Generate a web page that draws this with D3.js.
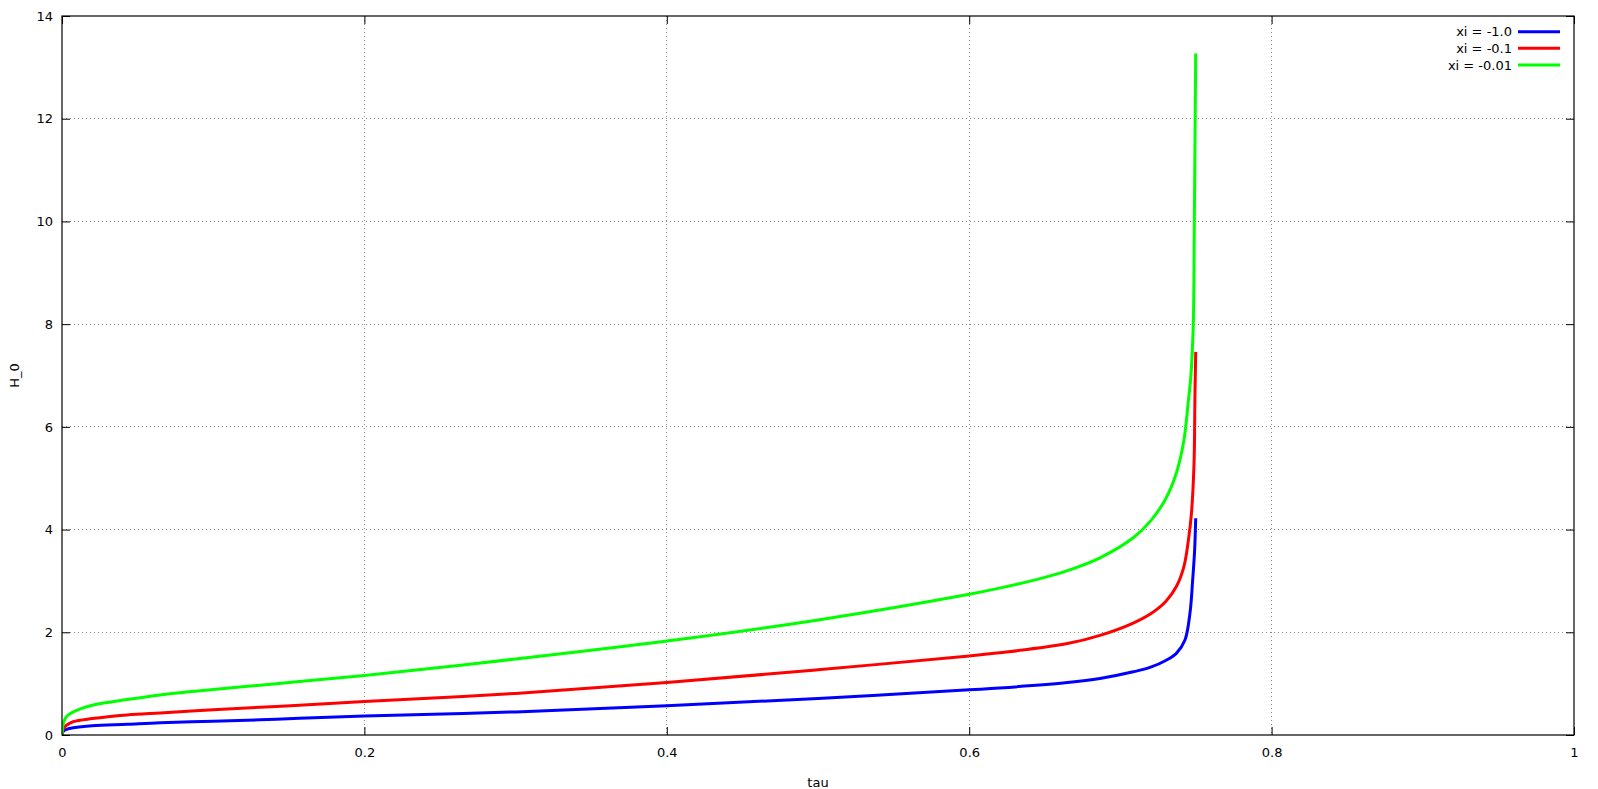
<!DOCTYPE html>
<html>
<head>
<meta charset="utf-8">
<script src="https://cdn.jsdelivr.net/npm/d3@7"></script>
<style>
  html, body { margin: 0; padding: 0; background: #fff; }
  svg { display: block; }
  text { font-family: "DejaVu Sans", sans-serif; font-size: 13px; fill: #000; }
</style>
</head>
<body>
<svg id="chart" width="1598" height="789"></svg>
<script>
// ---- data ----
const seriesNames = ["xi = -1.0", "xi = -0.1", "xi = -0.01"];
const seriesColors = ["#0000ff", "#ff0000", "#00ff00"];

const tauBlue = [0, 0.001, 0.003, 0.0075, 0.02, 0.043, 0.065, 0.1, 0.131, 0.157, 0.2, 0.3, 0.4, 0.5, 0.6, 0.62, 0.665, 0.6865, 0.7085, 0.72, 0.73, 0.737, 0.7427, 0.746, 0.7478, 0.7491, 0.7498];
const hBlue   = [0, 0.08, 0.11, 0.14, 0.18, 0.21, 0.24, 0.27, 0.295, 0.325, 0.37, 0.45, 0.57, 0.71, 0.88, 0.915, 1.02, 1.10, 1.23, 1.32, 1.45, 1.59, 1.85, 2.37, 3.02, 3.6, 4.22];

const tauRed = [0, 0.001, 0.003, 0.0075, 0.02, 0.043, 0.065, 0.1, 0.131, 0.157, 0.2, 0.3, 0.4, 0.5, 0.6, 0.62, 0.665, 0.6865, 0.7085, 0.72, 0.73, 0.737, 0.742, 0.745, 0.747, 0.7487, 0.7493, 0.7498];
const hRed   = [0, 0.13, 0.19, 0.26, 0.32, 0.39, 0.43, 0.49, 0.54, 0.58, 0.65, 0.81, 1.02, 1.27, 1.54, 1.60, 1.78, 1.94, 2.18, 2.36, 2.60, 2.89, 3.28, 3.80, 4.32, 5.29, 6.59, 7.46];

const tauGreen = [0, 0.001, 0.003, 0.0075, 0.02, 0.043, 0.065, 0.1, 0.131, 0.157, 0.2, 0.3, 0.4, 0.5, 0.6, 0.62, 0.645, 0.665, 0.6865, 0.7085, 0.72, 0.73, 0.737, 0.742, 0.745, 0.7465, 0.7482, 0.7489, 0.7498];
const hGreen   = [0, 0.24, 0.36, 0.45, 0.58, 0.69, 0.78, 0.885, 0.97, 1.04, 1.16, 1.48, 1.83, 2.24, 2.74, 2.86, 3.03, 3.20, 3.45, 3.84, 4.17, 4.6, 5.1, 5.74, 6.52, 6.95, 8.0, 10.0, 13.27];

const xTicks = [0, 0.2, 0.4, 0.6, 0.8, 1];
const xTickLabels = ["0", "0.2", "0.4", "0.6", "0.8", "1"];
const yTicks = [0, 2, 4, 6, 8, 10, 12, 14];
const yTickLabels = ["0", "2", "4", "6", "8", "10", "12", "14"];
const xLabel = "tau";
const yLabel = "H_0";

// ---- layout ----
const L = 62, R = 1574, T = 16, B = 735;
const svg = d3.select("#chart");
const x = d3.scaleLinear().domain([0, 1]).range([L, R]);
const y = d3.scaleLinear().domain([0, 14]).range([B, T]);

// grid
const grid = svg.append("g");
grid.selectAll("line.gx").data(xTicks.slice(1, -1)).join("line")
  .attr("x1", d => x(d)).attr("x2", d => x(d)).attr("y1", T).attr("y2", B)
  .attr("stroke", "#8a8a8a").attr("stroke-width", 1).attr("stroke-dasharray", "1,3")
  .attr("shape-rendering", "crispEdges");
grid.selectAll("line.gy").data(yTicks.slice(1, -1)).join("line")
  .attr("x1", L).attr("x2", R).attr("y1", d => y(d)).attr("y2", d => y(d))
  .attr("stroke", "#8a8a8a").attr("stroke-width", 1).attr("stroke-dasharray", "1,3")
  .attr("shape-rendering", "crispEdges");

// axes with inward ticks (mirrored)
const tl = 8;
const axB = svg.append("g").attr("transform", `translate(0,${B})`)
  .call(d3.axisBottom(x).tickValues(xTicks).tickFormat((d, i) => xTickLabels[i]).tickSizeInner(-tl).tickSizeOuter(0).tickPadding(tl + 5));
const axT = svg.append("g").attr("transform", `translate(0,${T})`)
  .call(d3.axisTop(x).tickValues(xTicks).tickFormat("").tickSizeInner(-tl).tickSizeOuter(0));
const axL = svg.append("g").attr("transform", `translate(${L},0)`)
  .call(d3.axisLeft(y).tickValues(yTicks).tickFormat((d, i) => yTickLabels[i]).tickSizeInner(-tl).tickSizeOuter(0).tickPadding(tl + 1));
const axR = svg.append("g").attr("transform", `translate(${R},0)`)
  .call(d3.axisRight(y).tickValues(yTicks).tickFormat("").tickSizeInner(-tl).tickSizeOuter(0));
[axB, axT, axL, axR].forEach(a => {
  a.select(".domain").remove();
  a.selectAll(".tick line").attr("stroke", "#000").attr("stroke-width", 1);
  a.selectAll("text").attr("font-family", "DejaVu Sans, sans-serif").attr("font-size", 13).attr("fill", "#000");
});

// series
const series = [
  { tau: tauBlue, h: hBlue },
  { tau: tauRed, h: hRed },
  { tau: tauGreen, h: hGreen }
];
const line = d3.line().x(d => x(d[0])).y(d => y(d[1])).curve(d3.curveCatmullRom.alpha(0.5));
const clip = svg.append("clipPath").attr("id", "clip").append("rect")
  .attr("x", L).attr("y", T).attr("width", R - L).attr("height", B - T);
svg.append("g").attr("clip-path", "url(#clip)")
  .selectAll("path").data(series).join("path")
  .attr("d", s => line(s.tau.map((t, i) => [t, s.h[i]])))
  .attr("fill", "none")
  .attr("stroke", (s, i) => seriesColors[i])
  .attr("stroke-width", 3)
  .attr("stroke-linejoin", "round");

// border
svg.append("rect").attr("x", L).attr("y", T).attr("width", R - L).attr("height", B - T)
  .attr("fill", "none").attr("stroke", "#000").attr("stroke-width", 1.2);

// axis labels
svg.append("text").attr("x", 818).attr("y", 782).attr("text-anchor", "middle")
  .attr("dominant-baseline", "central").text(xLabel);
svg.append("text").attr("transform", `translate(14,${(T + B) / 2}) rotate(-90)`)
  .attr("text-anchor", "middle").attr("dominant-baseline", "central").text(yLabel);

// legend
const legY = [31.7, 48.3, 65];
const leg = svg.append("g");
seriesNames.forEach((name, i) => {
  leg.append("text").attr("x", 1512).attr("y", legY[i]).attr("text-anchor", "end")
    .attr("dominant-baseline", "central").text(name);
  leg.append("line").attr("x1", 1518).attr("x2", 1560).attr("y1", legY[i]).attr("y2", legY[i])
    .attr("stroke", seriesColors[i]).attr("stroke-width", 3);
});
</script>
</body>
</html>
